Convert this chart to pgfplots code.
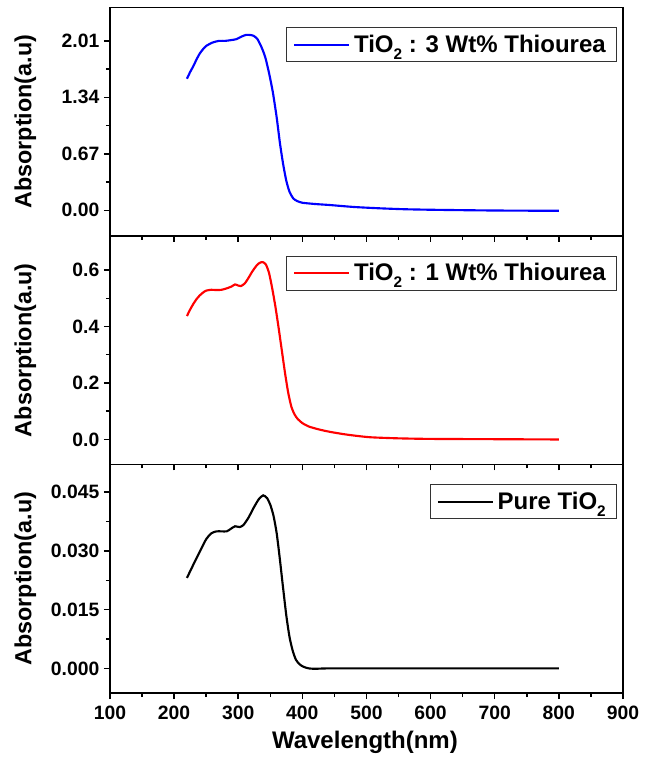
\documentclass[border=0pt]{standalone}
\usepackage{fontspec}
\setmainfont{Liberation Sans}
\usepackage{pgfplots}
\pgfplotsset{compat=1.18}
\usepgfplotslibrary{groupplots}

\newcommand{\sub}[1]{\raisebox{-0.55ex}{\fontsize{11.5}{11.5}\selectfont #1}}

\pgfplotsset{
  panel/.style={
    scale only axis,
    width=384.75pt,
    height=171.4pt,
    xmin=100, xmax=900,
    xtick={100,200,...,900},
    minor x tick num=1,
    minor y tick num=1,
    tick align=outside,
    xtick pos=bottom,
    ytick pos=left,
    major tick length=4.5pt,
    minor tick length=3pt,
    every tick/.style={black, line width=1.1pt},
    axis line style={line width=1.4pt},
    tick label style={font=\fontsize{14.5}{14.5}\selectfont\bfseries},
    xticklabel style={yshift=-2pt},
    /pgf/number format/assume math mode=true,
    scaled y ticks=false,
    every axis y label/.style={at={(axis description cs:-0.165,0.5)}, rotate=90, anchor=center,
      font=\fontsize{17.5}{17.5}\selectfont\bfseries},
    every axis x label/.style={at={(axis description cs:0.497,-0.215)}, anchor=center,
      font=\fontsize{18}{18}\selectfont\bfseries},
    ylabel={Absorption(a.u)},
    legend style={at={(axis description cs:0.988,0.913)}, anchor=north east,
      draw=black!80, line width=0.6pt, inner xsep=5pt, inner ysep=3.5pt,
      font=\fontsize{18}{20}\selectfont\bfseries,
      nodes={inner xsep=3pt}},
    legend cell align=left,
    legend image code/.code={\draw[#1, line width=1.6pt] (0pt,0pt) -- (41pt,0pt);},
  },
}

\begin{document}
\begin{tikzpicture}
\begin{groupplot}[
    group style={group size=1 by 3, vertical sep=0pt, xticklabels at=edge bottom},
    panel,
]
% TiO2 : 3 Wt% Thiourea
\nextgroupplot[
    ymin=-0.304, ymax=2.406,
    ytick={0,0.67,1.34,2.01},
    yticklabel style={/pgf/number format/.cd, fixed, fixed zerofill, precision=2},
]
\addplot[blue, line width=1.6pt, smooth, tension=0.4] coordinates {
(220,1.56) (225,1.64) (230,1.71) (235,1.79) (240,1.86) (245,1.91) (250,1.95)
(260,1.99) (270,2.01) (280,2.01) (290,2.02) (297,2.03) (305,2.06) (312,2.08)
(318,2.08) (324,2.07) (330,2.03) (336,1.94) (342,1.82) (348,1.63) (354,1.40)
(360,1.10) (365,0.80) (370,0.55) (375,0.35) (380,0.22) (386,0.14) (392,0.11)
(400,0.09) (420,0.075) (443,0.063) (480,0.040) (521,0.024) (560,0.013)
(600,0.007) (650,0.002) (700,-0.002) (750,-0.004) (800,-0.005)
};
\addlegendentry{TiO\sub{2} : 3 Wt\% Thiourea}

% TiO2 : 1 Wt% Thiourea
\nextgroupplot[
    ymin=-0.0886, ymax=0.7205,
    ytick={0,0.2,0.4,0.6},
    yticklabel style={/pgf/number format/.cd, fixed, fixed zerofill, precision=1},
]
\addplot[red, line width=1.6pt, smooth, tension=0.4] coordinates {
(220,0.437) (225,0.460) (230,0.480) (235,0.497) (240,0.510) (245,0.520)
(250,0.527) (258,0.530) (266,0.529) (274,0.530) (282,0.535) (290,0.542)
(295,0.549) (300,0.545) (304,0.543) (310,0.552) (316,0.572) (322,0.595)
(328,0.614) (333,0.625) (338,0.628) (343,0.620) (348,0.590) (353,0.535)
(358,0.470) (363,0.395) (368,0.315) (373,0.235) (378,0.165) (383,0.115)
(388,0.088) (393,0.072) (400,0.058) (410,0.046) (425,0.036) (443,0.027)
(470,0.017) (505,0.008) (550,0.004) (600,0.002) (700,0.001) (800,0.000)
};
\addlegendentry{TiO\sub{2} : 1 Wt\% Thiourea}

% Pure TiO2
\nextgroupplot[
    ymin=-0.00629, ymax=0.05208,
    ytick={0,0.015,0.03,0.045},
    yticklabel style={/pgf/number format/.cd, fixed, fixed zerofill, precision=3},
    xlabel={Wavelength(nm)},
]
\addplot[black, line width=1.6pt, smooth, tension=0.4] coordinates {
(220,0.0231) (230,0.0265) (240,0.0298) (250,0.0330) (258,0.0345) (266,0.0350)
(274,0.0350) (282,0.0350) (288,0.0356) (295,0.0363) (302,0.0361) (308,0.0366)
(316,0.0385) (324,0.0410) (332,0.0432) (339,0.0442) (345,0.0435) (350,0.0418)
(355,0.0390) (360,0.0345) (365,0.0278) (370,0.0205) (375,0.0135) (380,0.0080)
(385,0.0045) (390,0.0022) (396,0.0010) (402,0.0004) (410,0.0000) (420,-0.0001)
(440,0.0000) (500,0.0000) (600,0.0000) (700,0.0000) (800,0.0000)
};
\addlegendentry{Pure TiO\sub{2}}
\end{groupplot}
\pgfresetboundingbox
\path ([xshift=-82.5pt,yshift=-58.5pt]group c1r3.south west) rectangle ([xshift=22.5pt,yshift=5.6pt]group c1r1.north east);
\end{tikzpicture}
\end{document}
